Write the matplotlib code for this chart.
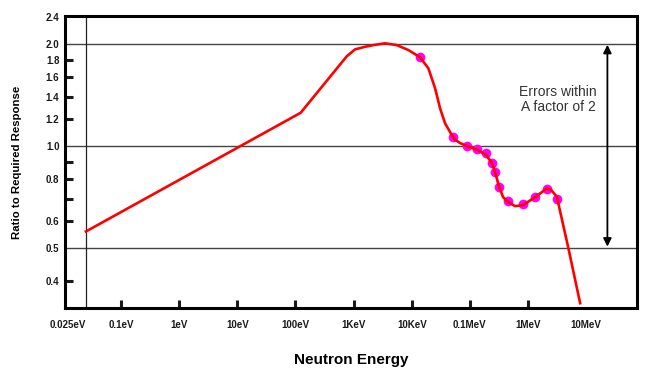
import numpy as np
import matplotlib
matplotlib.use("Agg")
import matplotlib.pyplot as plt
from matplotlib.ticker import FixedLocator, NullFormatter

# ---- data (energy in eV, ratio to required response) ----
curve_energy = [0.025, 123, 762, 1059, 1574, 2185, 3475, 5520, 8750, 13900,
                19300, 25200, 30700, 37400, 48800, 55000, 67700, 89300,
                1.38e5, 1.90e5, 2.40e5, 2.71e5, 3.18e5, 3.72e5, 4.53e5,
                5.98e5, 8.2e5, 1.32e6, 2.10e6, 2.49e6, 3.12e6, 4.93e6, 7.85e6]
curve_ratio = [0.56, 1.254, 1.84, 1.929, 1.963, 1.986, 2.01, 1.986, 1.920, 1.828,
               1.696, 1.480, 1.292, 1.167, 1.078, 1.045, 1.021, 1.0,
               0.973, 0.941, 0.891, 0.838, 0.757, 0.707, 0.684,
               0.665, 0.670, 0.707, 0.750, 0.742, 0.709, 0.5, 0.344]

meas_energy = [1.39e4, 5.2e4, 8.83e4, 1.34e5, 1.90e5, 2.38e5, 2.71e5, 3.18e5,
               4.59e5, 8.30e5, 1.32e6, 2.10e6, 3.19e6]
meas_ratio = [1.835, 1.061, 1.002, 0.980, 0.952, 0.893, 0.836, 0.758,
              0.688, 0.677, 0.706, 0.746, 0.696]

x_ticks = [0.025, 0.1, 1, 10, 100, 1e3, 1e4, 1e5, 1e6, 1e7]
x_labels = ["0.025eV", "0.1eV", "1eV", "10eV", "100eV", "1KeV", "10KeV",
            "0.1MeV", "1MeV", "10MeV"]
y_ticks = [0.4, 0.5, 0.6, 0.8, 1.0, 1.2, 1.4, 1.6, 1.8, 2.0, 2.4]
y_labels = ["0.4", "0.5", "0.6", "0.8", "1.0", "1.2", "1.4", "1.6", "1.8", "2.0", "2.4"]
y_minor = [0.7, 0.9]
ref_lines = [0.5, 1.0, 2.0]

plt.rcParams['font.family'] = ['Liberation Sans', 'DejaVu Sans']

fig = plt.figure(figsize=(6.63, 3.70), dpi=100)
ax = fig.add_axes([0.098, 0.1676, 0.863, 0.7892])

for v in ref_lines:
    ax.axhline(v, color="#444444", lw=1.0, zorder=1)
ax.axvline(0.025, color="#222222", lw=0.9, zorder=1)

ax.plot(meas_energy, meas_ratio, "o", color="#ff00ff", ms=7, mec="none", zorder=2)
ax.plot(curve_energy, curve_ratio, color="#ff0000", lw=1.9, zorder=3)

ax.set_xscale("log")
ax.set_yscale("log")
ax.set_xlim(0.0109, 7.5e7)
ax.set_ylim(0.333, 2.42)

# x ticks
ax.xaxis.set_major_locator(FixedLocator(x_ticks))
ax.set_xticklabels(x_labels)
ax.xaxis.set_minor_formatter(NullFormatter())
ax.xaxis.set_minor_locator(FixedLocator([]))
ax.tick_params(axis="x", which="major", direction="in", length=5.5, width=2.2,
               pad=9, labelsize=7, colors="#1a1a1a")
for lab in ax.get_xticklabels():
    lab.set_fontweight("bold")
xt = ax.xaxis.get_major_ticks()
xt[0].tick1line.set_visible(False)
xt[-1].tick1line.set_visible(False)
ax.get_xticklabels()[0].set_horizontalalignment("right")

# y ticks
ax.yaxis.set_major_locator(FixedLocator(y_ticks))
ax.set_yticklabels(y_labels)
ax.yaxis.set_minor_locator(FixedLocator(y_minor))
ax.yaxis.set_minor_formatter(NullFormatter())
ax.tick_params(axis="y", which="both", direction="in", length=5.5, width=2.2,
               pad=4, labelsize=7, colors="#1a1a1a")
for lab in ax.get_yticklabels():
    lab.set_fontweight("bold")
for t, v in zip(ax.yaxis.get_major_ticks(), y_ticks):
    if v in (0.5, 1.0, 2.0, 2.4):
        t.tick1line.set_visible(False)

for s in ax.spines.values():
    s.set_linewidth(2.2)
    s.set_color("black")

ax.set_xlabel("Neutron Energy", fontsize=11, fontweight="bold", labelpad=16)
ax.set_ylabel("Ratio to Required Response", fontsize=8.2, fontweight="bold",
              labelpad=17)

# factor-of-two annotation
ax.annotate("", xy=(2.31e7, 1.99), xytext=(2.31e7, 0.505),
            arrowprops=dict(arrowstyle="<|-|>", color="black", lw=1.3,
                            mutation_scale=12, shrinkA=0, shrinkB=0))
ax.text(3.28e6, 1.37, "Errors within\nA factor of 2", ha="center", va="center",
        fontsize=10, color="#333333", linespacing=1.1)

fig.savefig("out.png", dpi=100)
